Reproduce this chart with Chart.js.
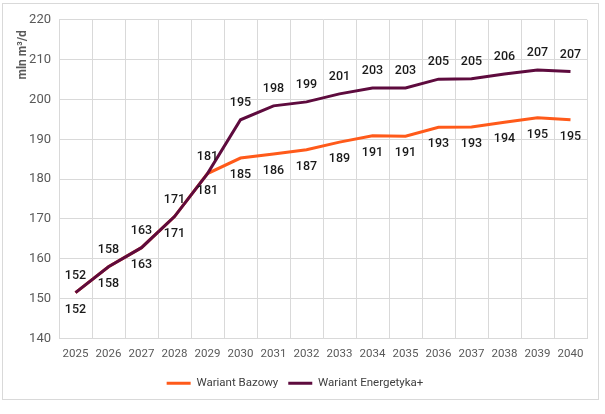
<!DOCTYPE html>
<html>
<head>
<meta charset="utf-8">
<script src="https://cdn.jsdelivr.net/npm/chart.js@4"></script>
<style>
  html, body { margin: 0; background: #fff; }
  #box { position: absolute; left: 2px; top: 3px; width: 595px; height: 395px; border: 1px solid #d9d9d9; }
  canvas { display: block; }
</style>
</head>
<body>
<div id="box"><canvas id="chart" width="595" height="395"></canvas></div>
<script>
// dane (mln m3/d)
const years = ['2025', '2026', '2027', '2028', '2029', '2030', '2031', '2032',
               '2033', '2034', '2035', '2036', '2037', '2038', '2039', '2040'];
const bazowy = [151.5, 158.0, 162.8, 170.6, 181.4, 185.3, 186.3, 187.4,
                189.3, 190.9, 190.8, 193.0, 193.1, 194.3, 195.4, 194.9];
const energetyka = [151.5, 158.0, 162.8, 170.6, 181.4, 194.9, 198.4, 199.4,
                    201.4, 202.9, 202.9, 205.1, 205.2, 206.4, 207.4, 207.0];
const yMin = 140, yMax = 220, yStep = 10;

const FONT = "Roboto, sans-serif";
const gridColor = '#d9d9d9';
const textGray = '#595959';

// etykiety wartosci nad / pod punktami
const valueLabels = {
    id: 'valueLabels',
    afterDatasetsDraw(chart) {
        const ctx = chart.ctx;
        ctx.save();
        ctx.font = '500 12.5px ' + FONT;
        ctx.fillStyle = '#1a1a1a';
        ctx.textAlign = 'center';
        ctx.textBaseline = 'middle';
        chart.data.datasets.forEach((ds, i) => {
            const meta = chart.getDatasetMeta(i);
            meta.data.forEach((pt, j) => {
                const dy = ds.labelAbove ? -17 : 17;
                ctx.fillText(Math.round(ds.data[j]), pt.x, pt.y + dy);
            });
        });
        ctx.restore();
    }
};

// tytul osi Y u gory
const yTitle = {
    id: 'yTitle',
    afterDraw(chart) {
        const ctx = chart.ctx;
        const area = chart.chartArea;
        ctx.save();
        ctx.translate(20, area.top + 35);
        ctx.rotate(-Math.PI / 2);
        ctx.font = 'bold 12px ' + FONT;
        ctx.fillStyle = textGray;
        ctx.textAlign = 'center';
        ctx.textBaseline = 'middle';
        ctx.fillText('mln m\u00b3/d', 0, 0);
        ctx.restore();
    }
};

new Chart(document.getElementById('chart').getContext('2d'), {
    type: 'line',
    data: {
        labels: years,
        datasets: [
            { label: 'Wariant Energetyka+', data: energetyka, borderColor: '#5e0b3e', backgroundColor: '#5e0b3e',
              borderWidth: 3, pointRadius: 0, tension: 0, labelAbove: true },
            { label: 'Wariant Bazowy', data: bazowy, borderColor: '#ff5a1a', backgroundColor: '#ff5a1a',
              borderWidth: 3, pointRadius: 0, tension: 0, labelAbove: false }
        ]
    },
    options: {
        responsive: false,
        animation: false,
        layout: { padding: { top: 15, right: 11, left: 0, bottom: 0 } },
        scales: {
            x: {
                offset: true,
                grid: { offset: true, color: gridColor, drawTicks: false },
                border: { color: gridColor },
                ticks: { color: textGray, padding: 9, maxRotation: 0, minRotation: 0, autoSkip: false,
                         font: { family: FONT, size: 11.5 } },
                afterFit: (s) => { s.height = 29; }
            },
            y: {
                min: yMin, max: yMax,
                grid: { color: gridColor, drawTicks: false },
                border: { color: gridColor },
                ticks: { stepSize: yStep, color: textGray, padding: 8, font: { family: FONT, size: 13 } },
                afterFit: (s) => { s.width = 56; }
            }
        },
        plugins: {
            legend: {
                position: 'bottom',
                reverse: true,
                labels: {
                    boxWidth: 24, boxHeight: 3, padding: 10, color: '#404040',
                    font: { family: FONT, size: 11.5 },
                    generateLabels: (chart) => Chart.defaults.plugins.legend.labels.generateLabels(chart)
                        .map(l => ({ ...l, lineWidth: 0 }))
                }
            },
            tooltip: { enabled: false }
        }
    },
    plugins: [valueLabels, yTitle]
});
</script>
</body>
</html>
